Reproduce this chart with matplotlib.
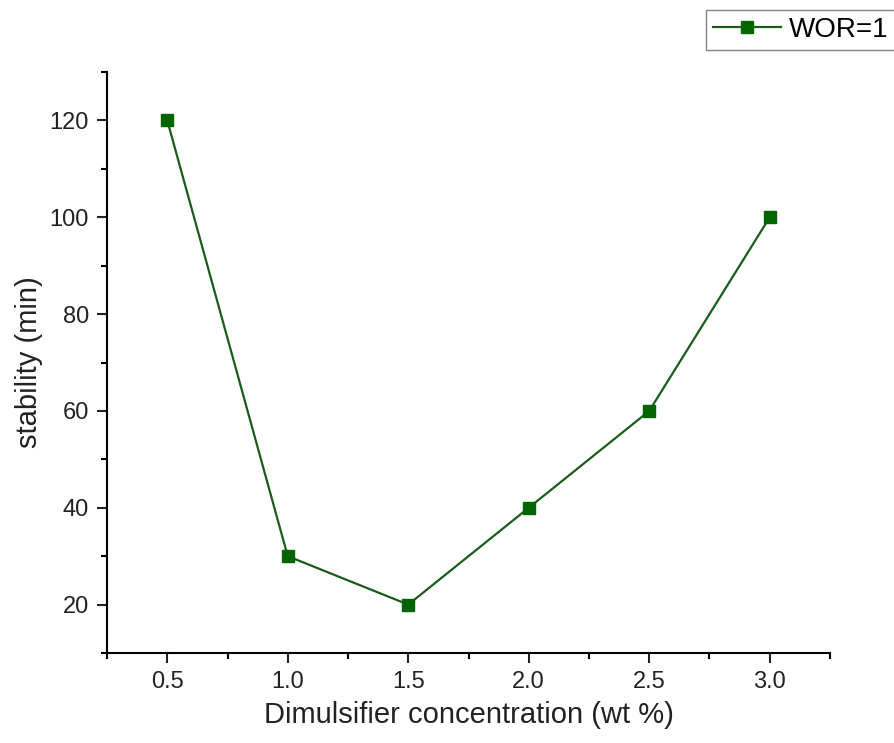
import matplotlib
matplotlib.use("Agg")
import matplotlib.pyplot as plt
from matplotlib.ticker import MultipleLocator

plt.rcParams['font.family'] = ['Liberation Sans', 'DejaVu Sans']

conc = [0.5, 1.0, 1.5, 2.0, 2.5, 3.0]
stability = [120, 30, 20, 40, 60, 100]
series_label = "WOR=1"
xtick_labels = ['0.5', '1.0', '1.5', '2.0', '2.5', '3.0']
ytick_values = [20, 40, 60, 80, 100, 120]

fig = plt.figure(figsize=(8.94, 7.43), dpi=100)
ax = fig.add_axes([0.1197, 0.1211, 0.9284 - 0.1197, 0.9031 - 0.1211])
ax.plot(conc, stability, color='#1a5c1a', lw=1.6, marker='s', markersize=9,
        markerfacecolor='#006400', markeredgecolor='#006400', label=series_label)

ax.set_xlim(0.25, 3.25)
ax.set_ylim(10, 130)
ax.xaxis.set_minor_locator(MultipleLocator(0.25))
ax.yaxis.set_minor_locator(MultipleLocator(10))
ax.set_xticks(conc)
ax.set_xticklabels(xtick_labels)
ax.set_yticks(ytick_values)
for s in ['top', 'right']:
    ax.spines[s].set_visible(False)
for s in ['left', 'bottom']:
    ax.spines[s].set_linewidth(1.5)
ax.tick_params(which='major', direction='out', length=7, width=1.5, labelsize=17,
               colors='#222222', pad=6)
ax.tick_params(which='minor', direction='out', length=4, width=1.5)
ax.set_xlabel('Dimulsifier concentration (wt %)', fontsize=21, labelpad=6, color='#222222')
ax.set_ylabel('stability (min)', fontsize=21, labelpad=5, color='#222222')

leg = fig.legend(loc='upper left', bbox_to_anchor=(706 / 894, 1 - 10 / 743), fontsize=20,
                 frameon=True, fancybox=False, edgecolor='#666666', handlelength=2.45,
                 borderpad=0.25, handletextpad=0.3, borderaxespad=0)
leg.get_frame().set_linewidth(1.0)

fig.savefig('out.png', dpi=100)
